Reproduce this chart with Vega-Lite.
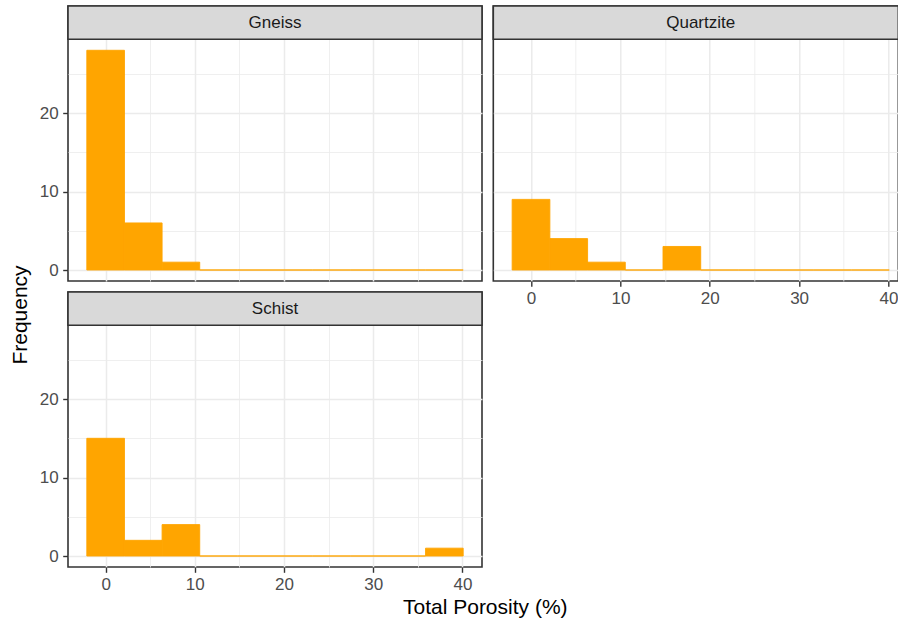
{
  "$schema": "https://vega.github.io/schema/vega-lite/v6.json",
  "padding": {"left": 0, "top": 4, "right": 0, "bottom": 0},
  "background": "white",
  "datasets": {
    "bins": [
      {"rock": "Gneiss", "bin_start": -2.11, "bin_end": 2.11, "count": 28},
      {"rock": "Gneiss", "bin_start": 2.11, "bin_end": 6.33, "count": 6},
      {"rock": "Gneiss", "bin_start": 6.33, "bin_end": 10.55, "count": 1},
      {"rock": "Gneiss", "bin_start": 10.55, "bin_end": 14.77, "count": 0},
      {"rock": "Gneiss", "bin_start": 14.77, "bin_end": 18.99, "count": 0},
      {"rock": "Gneiss", "bin_start": 18.99, "bin_end": 23.21, "count": 0},
      {"rock": "Gneiss", "bin_start": 23.21, "bin_end": 27.43, "count": 0},
      {"rock": "Gneiss", "bin_start": 27.43, "bin_end": 31.65, "count": 0},
      {"rock": "Gneiss", "bin_start": 31.65, "bin_end": 35.87, "count": 0},
      {"rock": "Gneiss", "bin_start": 35.87, "bin_end": 40.09, "count": 0},
      {"rock": "Quartzite", "bin_start": -2.11, "bin_end": 2.11, "count": 9},
      {"rock": "Quartzite", "bin_start": 2.11, "bin_end": 6.33, "count": 4},
      {"rock": "Quartzite", "bin_start": 6.33, "bin_end": 10.55, "count": 1},
      {"rock": "Quartzite", "bin_start": 10.55, "bin_end": 14.77, "count": 0},
      {"rock": "Quartzite", "bin_start": 14.77, "bin_end": 18.99, "count": 3},
      {"rock": "Quartzite", "bin_start": 18.99, "bin_end": 23.21, "count": 0},
      {"rock": "Quartzite", "bin_start": 23.21, "bin_end": 27.43, "count": 0},
      {"rock": "Quartzite", "bin_start": 27.43, "bin_end": 31.65, "count": 0},
      {"rock": "Quartzite", "bin_start": 31.65, "bin_end": 35.87, "count": 0},
      {"rock": "Quartzite", "bin_start": 35.87, "bin_end": 40.09, "count": 0},
      {"rock": "Schist", "bin_start": -2.11, "bin_end": 2.11, "count": 15},
      {"rock": "Schist", "bin_start": 2.11, "bin_end": 6.33, "count": 2},
      {"rock": "Schist", "bin_start": 6.33, "bin_end": 10.55, "count": 4},
      {"rock": "Schist", "bin_start": 10.55, "bin_end": 14.77, "count": 0},
      {"rock": "Schist", "bin_start": 14.77, "bin_end": 18.99, "count": 0},
      {"rock": "Schist", "bin_start": 18.99, "bin_end": 23.21, "count": 0},
      {"rock": "Schist", "bin_start": 23.21, "bin_end": 27.43, "count": 0},
      {"rock": "Schist", "bin_start": 27.43, "bin_end": 31.65, "count": 0},
      {"rock": "Schist", "bin_start": 31.65, "bin_end": 35.87, "count": 0},
      {"rock": "Schist", "bin_start": 35.87, "bin_end": 40.09, "count": 1}
    ]
  },
  "title": {
    "text": "Total Porosity (%)",
    "orient": "bottom",
    "anchor": "start",
    "frame": "group",
    "font": "Liberation Sans",
    "fontSize": 21,
    "fontWeight": "normal",
    "color": "#000000",
    "offset": 3,
    "dx": 403
  },
  "hconcat": [
    {
      "width": 38,
      "height": 561,
      "data": {"values": [{"label": "Frequency"}]},
      "view": {"stroke": null},
      "mark": {"type": "text", "angle": 270, "font": "Liberation Sans", "fontSize": 21, "color": "#000000", "dx": -28.5, "dy": 2},
      "encoding": {"text": {"field": "label"}}
    },
    {
      "columns": 2,
      "bounds": "flush",
      "align": "each",
      "spacing": {"row": 11, "column": 11.3},
      "concat": [
        {
          "width": 414, "height": 275,
          "data": {"name": "bins"},
          "transform": [{"filter": "datum.rock === 'Gneiss'"}],
          "view": {"stroke": "#333333", "strokeWidth": 1.6},
          "resolve": {"axis": {"x": "independent", "y": "independent"}},
          "layer": [
            {
              "mark": {"type": "rect", "opacity": 0},
              "encoding": {
                "x": {"field": "bin_start", "type": "quantitative", "scale": {"domain": [-4.22, 42.2], "nice": false, "zero": false},
                  "axis": {"orient": "top", "values": [5, 15, 25, 35], "grid": true, "gridWidth": 0.8, "labels": false, "ticks": false, "domain": false, "title": null}},
                "x2": {"field": "bin_end"},
                "y": {"field": "count", "type": "quantitative", "scale": {"domain": [-1.4, 33.644], "nice": false, "zero": false},
                  "axis": {"orient": "right", "values": [5, 15, 25], "grid": true, "gridWidth": 0.8, "labels": false, "ticks": false, "domain": false, "title": null}},
                "y2": {"datum": 0}
              }
            },
            {
              "mark": {"type": "rect", "color": "#FFA500", "stroke": "#FFA500", "strokeWidth": 0.9},
              "encoding": {
                "x": {"field": "bin_start", "type": "quantitative", "scale": {"domain": [-4.22, 42.2], "nice": false, "zero": false},
                  "axis": {"orient": "bottom", "values": [0, 10, 20, 30, 40], "grid": true, "labels": false, "ticks": false, "domain": false, "title": null}},
                "x2": {"field": "bin_end"},
                "y": {"field": "count", "type": "quantitative", "scale": {"domain": [-1.4, 33.644], "nice": false, "zero": false},
                  "axis": {"orient": "left", "values": [0, 10, 20], "grid": true, "domain": false, "title": null}},
                "y2": {"datum": 0}
              }
            },
            {
              "data": {"values": [{"rock": "Gneiss"}]},
              "mark": {"type": "rect", "fill": "#d9d9d9", "stroke": "#333333", "strokeWidth": 1.6},
              "encoding": {
                "x": {"datum": -4.22, "type": "quantitative", "axis": null},
                "x2": {"datum": 42.2},
                "y": {"datum": 29.4, "type": "quantitative", "axis": null},
                "y2": {"datum": 33.644}
              }
            },
            {
              "data": {"values": [{"rock": "Gneiss"}]},
              "mark": {"type": "text", "font": "Liberation Sans", "fontSize": 17, "color": "#1a1a1a"},
              "encoding": {
                "x": {"datum": 18.99, "type": "quantitative", "axis": null},
                "y": {"datum": 31.52, "type": "quantitative", "axis": null},
                "text": {"field": "rock"}
              }
            }
          ]
        },
        {
          "width": 405, "height": 275,
          "data": {"name": "bins"},
          "transform": [{"filter": "datum.rock === 'Quartzite'"}],
          "view": {"stroke": "#333333", "strokeWidth": 1.6},
          "resolve": {"axis": {"x": "independent", "y": "independent"}},
          "layer": [
            {
              "mark": {"type": "rect", "opacity": 0},
              "encoding": {
                "x": {"field": "bin_start", "type": "quantitative", "scale": {"domain": [-4.22, 41.1], "nice": false, "zero": false},
                  "axis": {"orient": "top", "values": [5, 15, 25, 35], "grid": true, "gridWidth": 0.8, "labels": false, "ticks": false, "domain": false, "title": null}},
                "x2": {"field": "bin_end"},
                "y": {"field": "count", "type": "quantitative", "scale": {"domain": [-1.4, 33.644], "nice": false, "zero": false},
                  "axis": {"orient": "right", "values": [5, 15, 25], "grid": true, "gridWidth": 0.8, "labels": false, "ticks": false, "domain": false, "title": null}},
                "y2": {"datum": 0}
              }
            },
            {
              "mark": {"type": "rect", "color": "#FFA500", "stroke": "#FFA500", "strokeWidth": 0.9},
              "encoding": {
                "x": {"field": "bin_start", "type": "quantitative", "scale": {"domain": [-4.22, 41.1], "nice": false, "zero": false},
                  "axis": {"orient": "bottom", "values": [0, 10, 20, 30, 40], "grid": true, "domain": false, "title": null}},
                "x2": {"field": "bin_end"},
                "y": {"field": "count", "type": "quantitative", "scale": {"domain": [-1.4, 33.644], "nice": false, "zero": false},
                  "axis": {"orient": "left", "values": [0, 10, 20], "grid": true, "labels": false, "ticks": false, "domain": false, "title": null}},
                "y2": {"datum": 0}
              }
            },
            {
              "data": {"values": [{"rock": "Quartzite"}]},
              "mark": {"type": "rect", "fill": "#d9d9d9", "stroke": "#333333", "strokeWidth": 1.6},
              "encoding": {
                "x": {"datum": -4.22, "type": "quantitative", "axis": null},
                "x2": {"datum": 41.1},
                "y": {"datum": 29.4, "type": "quantitative", "axis": null},
                "y2": {"datum": 33.644}
              }
            },
            {
              "data": {"values": [{"rock": "Quartzite"}]},
              "mark": {"type": "text", "font": "Liberation Sans", "fontSize": 17, "color": "#1a1a1a"},
              "encoding": {
                "x": {"datum": 18.99, "type": "quantitative", "axis": null},
                "y": {"datum": 31.52, "type": "quantitative", "axis": null},
                "text": {"field": "rock"}
              }
            }
          ]
        },
        {
          "width": 414, "height": 275,
          "data": {"name": "bins"},
          "transform": [{"filter": "datum.rock === 'Schist'"}],
          "view": {"stroke": "#333333", "strokeWidth": 1.6},
          "resolve": {"axis": {"x": "independent", "y": "independent"}},
          "layer": [
            {
              "mark": {"type": "rect", "opacity": 0},
              "encoding": {
                "x": {"field": "bin_start", "type": "quantitative", "scale": {"domain": [-4.22, 42.2], "nice": false, "zero": false},
                  "axis": {"orient": "top", "values": [5, 15, 25, 35], "grid": true, "gridWidth": 0.8, "labels": false, "ticks": false, "domain": false, "title": null}},
                "x2": {"field": "bin_end"},
                "y": {"field": "count", "type": "quantitative", "scale": {"domain": [-1.4, 33.644], "nice": false, "zero": false},
                  "axis": {"orient": "right", "values": [5, 15, 25], "grid": true, "gridWidth": 0.8, "labels": false, "ticks": false, "domain": false, "title": null}},
                "y2": {"datum": 0}
              }
            },
            {
              "mark": {"type": "rect", "color": "#FFA500", "stroke": "#FFA500", "strokeWidth": 0.9},
              "encoding": {
                "x": {"field": "bin_start", "type": "quantitative", "scale": {"domain": [-4.22, 42.2], "nice": false, "zero": false},
                  "axis": {"orient": "bottom", "values": [0, 10, 20, 30, 40], "grid": true, "domain": false, "title": null}},
                "x2": {"field": "bin_end"},
                "y": {"field": "count", "type": "quantitative", "scale": {"domain": [-1.4, 33.644], "nice": false, "zero": false},
                  "axis": {"orient": "left", "values": [0, 10, 20], "grid": true, "domain": false, "title": null}},
                "y2": {"datum": 0}
              }
            },
            {
              "data": {"values": [{"rock": "Schist"}]},
              "mark": {"type": "rect", "fill": "#d9d9d9", "stroke": "#333333", "strokeWidth": 1.6},
              "encoding": {
                "x": {"datum": -4.22, "type": "quantitative", "axis": null},
                "x2": {"datum": 42.2},
                "y": {"datum": 29.4, "type": "quantitative", "axis": null},
                "y2": {"datum": 33.644}
              }
            },
            {
              "data": {"values": [{"rock": "Schist"}]},
              "mark": {"type": "text", "font": "Liberation Sans", "fontSize": 17, "color": "#1a1a1a"},
              "encoding": {
                "x": {"datum": 18.99, "type": "quantitative", "axis": null},
                "y": {"datum": 31.52, "type": "quantitative", "axis": null},
                "text": {"field": "rock"}
              }
            }
          ]
        }
      ]
    }
  ],
  "spacing": 0,
  "config": {
    "view": {"stroke": null},
    "axis": {
      "gridColor": "#ebebeb",
      "gridWidth": 1.5,
      "gridOpacity": 1,
      "tickColor": "#333333",
      "tickWidth": 1.4,
      "tickSize": 5.3,
      "labelPadding": 4.5,
      "labelFont": "Liberation Sans",
      "labelFontSize": 17,
      "labelColor": "#4d4d4d",
      "labelFlush": false,
      "labelOverlap": false
    }
  }
}
